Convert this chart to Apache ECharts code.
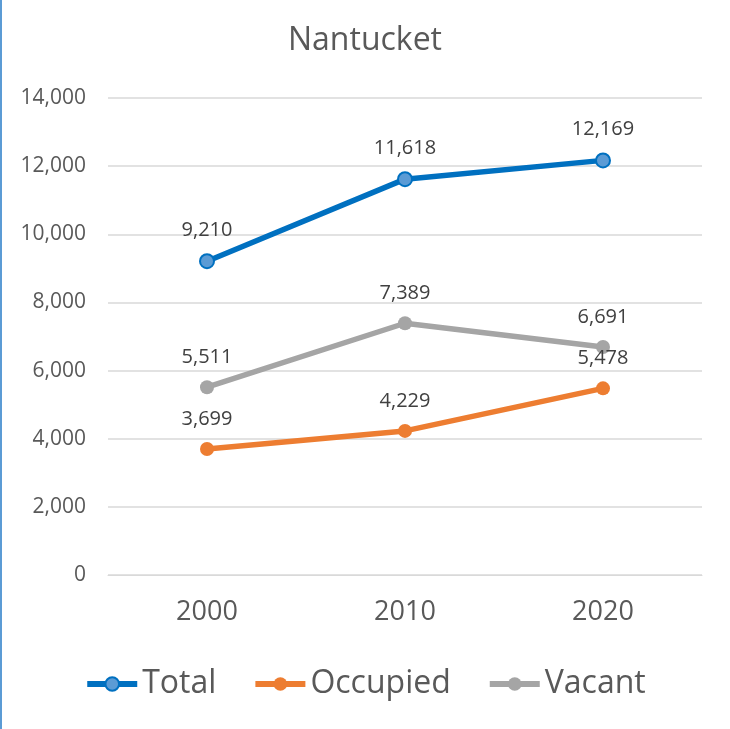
<!DOCTYPE html>
<html>
<head>
<meta charset="utf-8">
<title>Nantucket</title>
<script src="https://cdn.jsdelivr.net/npm/echarts@6/dist/echarts.min.js"></script>
<style>
  html, body { margin: 0; padding: 0; background: #fff; }
  #chart { width: 730px; height: 729px; }
</style>
</head>
<body>
<div id="chart"></div>
<script>
// data
var years = ['2000', '2010', '2020'];
var total = [9210, 11618, 12169];
var occupied = [3699, 4229, 5478];
var vacant = [5511, 7389, 6691];

var font = 'Open Sans';
var chart = echarts.init(document.getElementById('chart'));

function lineSeries(name, data, color, fill) {
    return {
        name: name,
        type: 'line',
        data: data,
        symbol: 'circle',
        symbolSize: 14,
        lineStyle: { color: color, width: 5.5 },
        itemStyle: { color: fill, borderColor: color, borderWidth: fill === color ? 0 : 2 },
        label: {
            show: true,
            position: 'top',
            distance: 13,
            fontFamily: font,
            fontSize: 20,
            color: '#404040',
            formatter: function (p) { return p.value.toLocaleString('en-US'); }
        }
    };
}

chart.setOption({
    animation: false,
    title: {
        text: 'Nantucket',
        left: 'center',
        top: 20,
        textStyle: { fontFamily: font, fontSize: 32, fontWeight: 'normal', color: '#595959' }
    },
    graphic: [{
        type: 'rect',
        shape: { x: 0, y: 0, width: 2, height: 729 },
        style: { fill: '#5b9bd5' }
    }],
    legend: {
        bottom: 24,
        left: 'center',
        itemWidth: 50,
        itemHeight: 17,
        itemGap: 36,
        lineStyle: { width: 6 },
        textStyle: { fontFamily: font, fontSize: 32, color: '#595959' },
        data: ['Total', 'Occupied', 'Vacant']
    },
    grid: { left: 108, right: 28, top: 98, bottom: 154 },
    xAxis: {
        type: 'category',
        data: years,
        axisLine: { lineStyle: { color: '#d9d9d9' } },
        axisTick: { show: false },
        axisLabel: { fontFamily: font, fontSize: 27, color: '#595959', margin: 24 }
    },
    yAxis: {
        type: 'value',
        min: 0,
        max: 14000,
        interval: 2000,
        axisLine: { show: false },
        axisTick: { show: false },
        splitLine: { lineStyle: { color: '#d9d9d9', width: 1.5 } },
        axisLabel: {
            fontFamily: font, fontSize: 21, color: '#595959', margin: 22,
            formatter: function (v) { return v.toLocaleString('en-US'); }
        }
    },
    series: [
        lineSeries('Total', total, '#0070c0', '#5b9bd5'),
        lineSeries('Occupied', occupied, '#ed7d31', '#ed7d31'),
        lineSeries('Vacant', vacant, '#a5a5a5', '#a5a5a5')
    ]
});
</script>
</body>
</html>
